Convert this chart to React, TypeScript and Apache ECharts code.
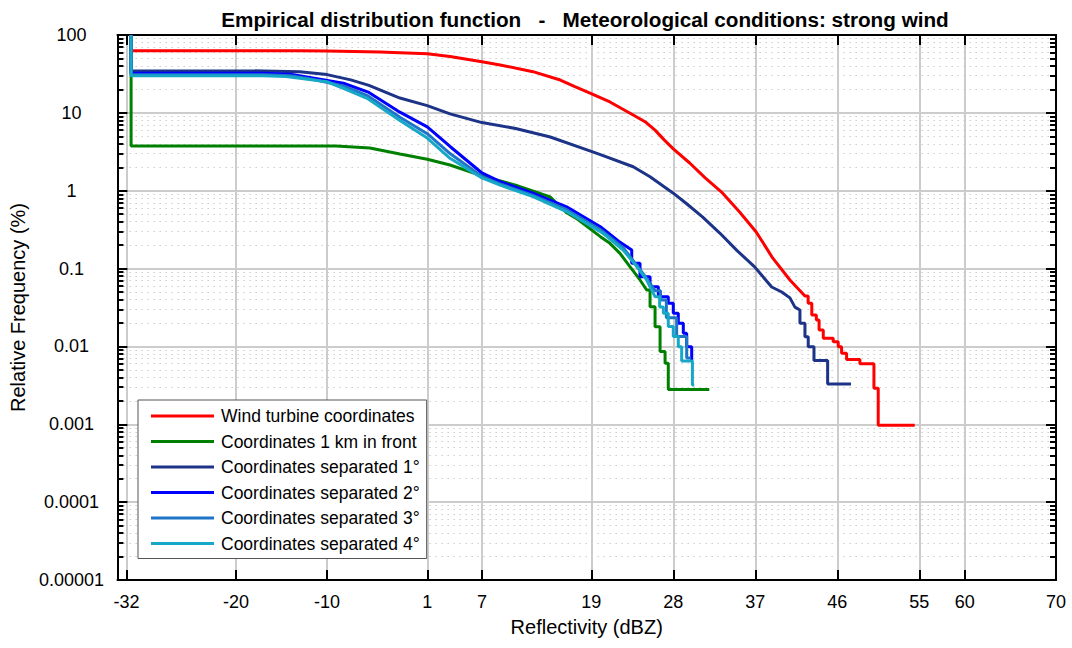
import React, { useEffect, useRef } from "react";
import * as echarts from "echarts";

const FONT = '"Liberation Sans", Arial, Helvetica, sans-serif';

const TITLE = "Empirical distribution function   -   Meteorological conditions: strong wind";
const X_NAME = "Reflectivity (dBZ)";
const Y_NAME = "Relative Frequency (%)";

const xTicks = [-32, -20, -10, 1, 7, 19, 28, 37, 46, 55, 60, 70];
const yTickLabels = ["0.00001", "0.0001", "0.001", "0.01", "0.1", "1", "10", "100"];

const seriesNames = [
  "Wind turbine coordinates",
  "Coordinates 1 km in front",
  "Coordinates separated 1°",
  "Coordinates separated 2°",
  "Coordinates separated 3°",
  "Coordinates separated 4°",
];
const seriesColors = ["#ff0000", "#008000", "#1c3388", "#0000ff", "#1f74c8", "#17a8c8"];

// [reflectivity dBZ, relative frequency %]
const redData = [
  [-31.5, 100], [-31.5, 62.9], [-13, 62.9], [-10, 62.5], [-4.2, 60.5], [1, 57.5], [3.5, 53],
  [7, 45.4], [9, 41.2], [12.6, 33.8], [15.6, 26.4], [17.2, 21.7], [19.05, 17.5], [21.05, 13.8],
  [23.6, 9.4], [24.9, 7.7], [26.0, 6.0], [27.0, 4.5], [28.0, 3.45], [29.8, 2.27], [31.5, 1.46],
  [33.3, 0.96], [35.3, 0.53], [37.1, 0.295], [38.9, 0.137], [40.8, 0.0714], [42.45, 0.0445],
  [42.8, 0.0445], [42.8, 0.0358], [43.2, 0.0358], [43.2, 0.0253], [43.7, 0.0253], [43.7, 0.0219],
  [44.0, 0.0219], [44.0, 0.0163], [44.46, 0.0163], [44.46, 0.0127], [45.55, 0.0127], [45.55, 0.0115],
  [46.1, 0.0115], [46.1, 0.0099], [46.47, 0.0099], [46.47, 0.0082], [47.02, 0.0082], [47.02, 0.0068],
  [48.48, 0.0068], [48.48, 0.006], [50.02, 0.006], [50.02, 0.0029], [50.49, 0.0029], [50.49, 0.00097],
  [54.5, 0.00097],
];

const greenData = [
  [-31.5, 100], [-31.5, 3.75], [-9, 3.75], [-5.3, 3.54], [-2, 2.96], [1, 2.53], [3.5, 2.14],
  [7, 1.55], [10.7, 1.18], [14.5, 0.83], [16.3, 0.52], [17.5, 0.43], [20.0, 0.257], [21.05, 0.211],
  [22.15, 0.157], [23.24, 0.106], [24.35, 0.0714], [25.08, 0.0531], [25.45, 0.0531], [25.45, 0.0324],
  [26.0, 0.0324], [26.0, 0.0179], [26.55, 0.0179], [26.55, 0.0086], [27.1, 0.0086], [27.1, 0.0061],
  [27.45, 0.0061], [27.45, 0.0028], [31.95, 0.0028],
];

const navyData = [
  [-31.5, 100], [-31.5, 34.8], [-17, 34.6], [-13, 33.8], [-10, 31], [-7.4, 26.5], [-5.4, 22.5],
  [-2, 15.5], [1, 12.4], [3.5, 9.7], [7, 7.5], [10.7, 6.3], [14.5, 4.9], [19, 3.2], [20, 2.9],
  [23.6, 2.03], [25.45, 1.51], [28, 0.93], [29.4, 0.69], [31.2, 0.46], [33.1, 0.286], [35.0, 0.17],
  [36.9, 0.106], [38.8, 0.058], [39.9, 0.05], [40.8, 0.042], [41.35, 0.032], [41.9, 0.0294],
  [41.9, 0.0198], [42.45, 0.0198], [42.45, 0.0133], [42.81, 0.0133], [42.81, 0.0099], [43.44, 0.0099],
  [43.44, 0.0066], [44.94, 0.0066], [44.94, 0.0033], [47.5, 0.0033],
];

const blueData = [
  [-31.5, 100], [-31.5, 32.2], [-17, 32.2], [-14, 31.3], [-11.9, 28.5], [-8.2, 24.0], [-5.4, 18.3],
  [-2, 10.2], [1, 6.6], [3.5, 3.7], [7, 1.69], [9, 1.31], [12.6, 0.93], [16.3, 0.62], [20, 0.345],
  [22, 0.225], [23.44, 0.173], [23.44, 0.117], [24.35, 0.117], [24.35, 0.0787], [25.45, 0.0787],
  [25.45, 0.0584], [26.36, 0.0584], [26.36, 0.0436], [27.45, 0.0436], [27.45, 0.0358], [28.0, 0.0358],
  [28.0, 0.0267], [28.55, 0.0267], [28.55, 0.0198], [29.1, 0.0198], [29.1, 0.0148], [29.47, 0.0148],
  [29.47, 0.0099], [30.02, 0.0099], [30.02, 0.0065],
];

const midBlueData = [
  [-31.5, 100], [-31.5, 30.9], [-17, 30.9], [-14, 30.0], [-12, 27.5], [-8.2, 22.2], [-5.5, 16.5],
  [-2, 8.8], [1, 5.4], [3.5, 3.0], [7, 1.52], [9, 1.22], [12.6, 0.87], [16.3, 0.57], [20, 0.315],
  [22.5, 0.185], [24, 0.11], [25.1, 0.074], [26.0, 0.052], [26.6, 0.052], [26.6, 0.0395],
  [27.24, 0.0395], [27.24, 0.0233], [28.37, 0.0233], [28.37, 0.0134], [29.47, 0.0134],
  [29.47, 0.0071], [29.9, 0.0071],
];

const cyanData = [
  [-31.5, 100], [-31.5, 30.0], [-17, 30.0], [-14.5, 29.2], [-13, 27.8], [-10, 25.1], [-8.2, 20.7],
  [-5.6, 15.4], [-2, 8.0], [1, 4.75], [3.5, 2.61], [7, 1.46], [9, 1.18], [12.6, 0.84], [16.3, 0.54],
  [20, 0.298], [20.7, 0.26], [22.5, 0.173], [24.0, 0.106], [25.08, 0.0714], [26.0, 0.0436],
  [26.5, 0.0436], [26.5, 0.032], [26.91, 0.032], [26.91, 0.0267], [27.45, 0.0267], [27.45, 0.018],
  [28.0, 0.018], [28.0, 0.0134], [28.55, 0.0134], [28.55, 0.0099], [28.92, 0.0099], [28.92, 0.0065],
  [30.1, 0.0065], [30.1, 0.0032], [30.3, 0.0032],
];

const allData = [redData, greenData, navyData, blueData, midBlueData, cyanData];

export default function App() {
  const ref = useRef<HTMLDivElement>(null);

  useEffect(() => {
    if (!ref.current) return;
    const chart = echarts.init(ref.current, undefined, { renderer: "svg" });

    const axisLineStyle = { color: "#000", width: 2 };
    const gridColor = "#cccccc";

    const option: any = {
      animation: false,
      backgroundColor: "#ffffff",
      textStyle: { fontFamily: FONT },
      graphic: [
        {
          type: "text",
          x: 585,
          y: 19,
          style: {
            text: TITLE,
            align: "center",
            verticalAlign: "middle",
            fontSize: 20.7,
            fontWeight: "bold",
            fontFamily: FONT,
            fill: "#000",
          },
        },
      ],
      grid: { left: 117, right: 16, top: 35, bottom: 68, containLabel: false },
      legend: {
        orient: "vertical",
        left: 138,
        top: 400,
        padding: [6, 7, 5, 13],
        itemWidth: 63,
        itemHeight: 3,
        itemGap: 5.5,
        icon: "rect",
        backgroundColor: "#ffffff",
        borderColor: "#555555",
        borderWidth: 1,
        borderRadius: 0,
        textStyle: { fontSize: 17.5, fontFamily: FONT, color: "#000", lineHeight: 20, padding: [0, 0, 0, 2] },
        data: seriesNames,
      },
      xAxis: [
        {
          type: "value",
          min: -33,
          max: 70,
          position: "bottom",
          name: X_NAME,
          nameLocation: "middle",
          nameGap: 37,
          nameTextStyle: { fontSize: 20, color: "#000", fontFamily: FONT },
          axisLine: { show: true, onZero: false, lineStyle: axisLineStyle },
          axisTick: { show: true, inside: true, length: 10, customValues: xTicks, lineStyle: axisLineStyle },
          axisLabel: { customValues: xTicks, margin: 13, fontSize: 18, color: "#000", fontFamily: FONT },
          splitLine: { show: true, lineStyle: { color: gridColor, width: 2 } },
        },
        {
          type: "value",
          min: -33,
          max: 70,
          position: "top",
          axisLine: { show: true, onZero: false, lineStyle: axisLineStyle },
          axisTick: { show: true, inside: true, length: 10, customValues: xTicks, lineStyle: axisLineStyle },
          axisLabel: { show: false },
          splitLine: { show: false },
        },
      ],
      yAxis: [
        {
          type: "log",
          logBase: 10,
          min: 0.00001,
          max: 100,
          position: "left",
          name: Y_NAME,
          nameLocation: "middle",
          nameGap: 84,
          nameTextStyle: { fontSize: 20, color: "#000", fontFamily: FONT },
          axisLine: { show: true, onZero: false, lineStyle: axisLineStyle },
          axisTick: { show: true, inside: true, length: 10, lineStyle: axisLineStyle },
          minorTick: { show: true, splitNumber: 9, length: 6, lineStyle: { color: "#000", width: 2 } },
          axisLabel: {
            margin: 46,
            align: "center",
            fontSize: 18,
            color: "#000",
            fontFamily: FONT,
            formatter: (v: number) => {
              const k = Math.round(Math.log10(v)) + 5;
              return yTickLabels[k] ?? "";
            },
          },
          splitLine: { show: true, lineStyle: { color: gridColor, width: 2 } },
          minorSplitLine: { show: true, lineStyle: { color: "#cdcdcd", width: 1.2, type: [1.5, 4.5] } },
        },
        {
          type: "log",
          logBase: 10,
          min: 0.00001,
          max: 100,
          position: "right",
          axisLine: { show: true, onZero: false, lineStyle: axisLineStyle },
          axisTick: { show: true, inside: true, length: 10, lineStyle: axisLineStyle },
          minorTick: { show: true, splitNumber: 9, length: 6, lineStyle: { color: "#000", width: 2 } },
          axisLabel: { show: false },
          splitLine: { show: false },
          minorSplitLine: { show: false },
        },
      ],
      series: allData.map((d, i) => ({
        name: seriesNames[i],
        type: "line",
        xAxisIndex: 0,
        yAxisIndex: 0,
        data: d,
        showSymbol: false,
        symbol: "none",
        clip: true,
        color: seriesColors[i],
        lineStyle: { color: seriesColors[i], width: 3 },
        z: 3 + i,
      })),
    };

    chart.setOption(option);
    return () => chart.dispose();
  }, []);

  return (
    <div
      ref={ref}
      style={{ position: "fixed", left: 0, top: 0, width: 1072, height: 648, background: "#fff" }}
    />
  );
}
